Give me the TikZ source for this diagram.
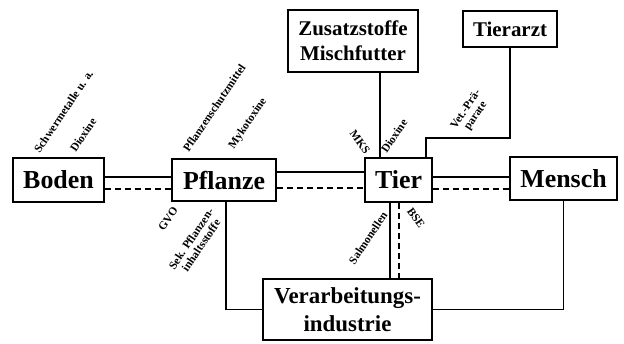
\documentclass[tikz,border=0pt]{standalone}
\usepackage{fontspec}
\setmainfont{Liberation Serif}
\begin{document}
\begin{tikzpicture}[x=1bp,y=-1bp,
  box/.style={draw, line width=1.8bp, inner sep=0pt, align=center},
  big/.style={font=\bfseries\fontsize{26}{30}\selectfont},
  mid/.style={font=\bfseries\fontsize{21}{25}\selectfont},
  conn/.style={line width=1.1bp},
  dconn/.style={line width=1.3bp, dash pattern=on 6bp off 4bp},
  lbl/.style={font=\bfseries\fontsize{11.5}{12}\selectfont, inner sep=0pt, align=center},
  up/.style={lbl, rotate=56},
  down/.style={lbl, rotate=-55}
]
\useasboundingbox (0,0) rectangle (624,343);
% boxes
\node[box, big, minimum width=91bp, minimum height=44bp] (boden) at (58.5,180) {Boden};
\node[box, big, minimum width=104bp, minimum height=42bp] (pflanze) at (224,180) {Pflanze};
\node[box, big, minimum width=67bp, minimum height=44bp] (tier) at (398.5,180) {Tier};
\node[box, big, minimum width=107bp, minimum height=43bp] (mensch) at (563.5,178.5) {Mensch};
\node[box, mid, minimum width=130bp, minimum height=62bp] (zusatz) at (353,41) {Zusatzstoffe\\Mischfutter};
\node[box, mid, minimum width=94bp, minimum height=36bp] (tierarzt) at (510,29) {Tierarzt};
\node[box, font=\bfseries\fontsize{23}{28}\selectfont, minimum width=169bp, minimum height=61bp] (verarb) at (347.5,309.5) {Verarbeitungs-\\industrie};
% horizontal connectors
\draw[conn] (boden.east |- 0,177) -- (pflanze.west |- 0,177);
\draw[dconn] (boden.east |- 0,189) -- (pflanze.west |- 0,189);
\draw[conn] (pflanze.east |- 0,172) -- (tier.west |- 0,172);
\draw[dconn] (pflanze.east |- 0,188) -- (tier.west |- 0,188);
\draw[conn] (tier.east |- 0,177) -- (mensch.west |- 0,177);
\draw[dconn] (tier.east |- 0,189) -- (mensch.west |- 0,189);
% vertical connectors
\draw[conn] (zusatz.south -| 380,0) -- (tier.north -| 380,0);
\coordinate (k) at (426,138);
\draw[conn] (tierarzt.south) |- (k) -- (k |- tier.north);
\draw[conn] (pflanze.south -| 226,0) |- (verarb.west);
\draw[conn] (tier.south -| 390,0) -- (verarb.north -| 390,0);
\draw[dconn] (tier.south -| 399,0) -- (verarb.north -| 399,0);
\draw[conn] (mensch.south) |- (verarb.east);
% labels
\node[up, anchor=south west] (l1) at (40,154) {Schwermetalle u. a.};
\node[up, anchor=south west] (l2) at (76,153) {Dioxine};
\node[up, anchor=south west] (l3) at (189,153) {Pflanzenschutzmittel};
\node[up, anchor=south west] (l4) at (236,151) {Mykotoxine};
\node[down] (l5) at (360,142) {MKS};
\node[up, anchor=south west] (l6) at (387,154) {Dioxine};
\node[up] (l7) at (471,113) {Vet.-Prä-\\parate};
\node[up] (l8) at (168,219) {GVO};
\node[up] (l9) at (196,242) {Sek. Pflanzen-\\inhaltsstoffe};
\node[up] (l10) at (368,238) {Salmonellen};
\node[down] (l11) at (416,218) {BSE};
\end{tikzpicture}
\end{document}
